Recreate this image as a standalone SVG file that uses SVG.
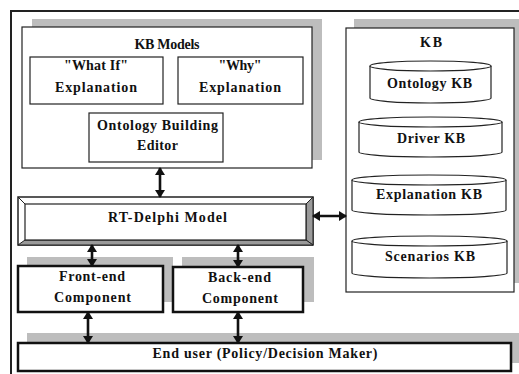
<svg xmlns="http://www.w3.org/2000/svg" width="519" height="374" viewBox="0 0 519 374">
<defs>
<style>
.t{font-family:"Liberation Serif","DejaVu Serif",serif;font-weight:700;font-size:14px;fill:#111;text-anchor:middle}
.sh{fill:#bdbdbd;stroke:none}
.thin{fill:#fff;stroke:#222;stroke-width:1.2}
.thick{fill:#fff;stroke:#111;stroke-width:2.5}
.cyl{fill:#fff;stroke:#222;stroke-width:1.2}
.con{stroke:#111;stroke-width:2.6;fill:none;marker-start:url(#ah);marker-end:url(#ah)}
</style>
<marker id="ah" markerUnits="userSpaceOnUse" markerWidth="8" markerHeight="10" refX="7" refY="5" orient="auto-start-reverse" viewBox="0 0 8 10">
<path d="M0,0 L8,5 L0,10 z" fill="#111"/>
</marker>
</defs>
<rect width="519" height="374" fill="#fff"/>
<rect x="11" y="11" width="520" height="370" fill="none" stroke="#222" stroke-width="2"/>

<g id="kb-models">
<rect class="sh" x="32" y="19" width="290" height="141"/>
<rect class="thin" x="22" y="27" width="290" height="141"/>
<text class="t" x="167" y="49" textLength="65" lengthAdjust="spacing">KB Models</text>
</g>
<g id="what-if">
<rect class="thin" x="30" y="57" width="133" height="47"/>
<text class="t" x="96" y="70" textLength="64" lengthAdjust="spacing">"What If"</text>
<text class="t" x="96" y="92" textLength="82" lengthAdjust="spacing">Explanation</text>
</g>
<g id="why">
<rect class="thin" x="178" y="57" width="125" height="47"/>
<text class="t" x="240" y="70" textLength="43" lengthAdjust="spacing">"Why"</text>
<text class="t" x="240" y="92" textLength="82" lengthAdjust="spacing">Explanation</text>
</g>
<g id="ontology-editor">
<rect class="thin" x="89" y="113" width="134" height="49"/>
<text class="t" x="157.5" y="130" textLength="121" lengthAdjust="spacing">Ontology Building</text>
<text class="t" x="157.5" y="150" textLength="41" lengthAdjust="spacing">Editor</text>
</g>

<g id="kb">
<rect class="sh" x="354" y="19" width="168" height="264"/>
<rect class="thin" x="346" y="28" width="168" height="264"/>
<text class="t" x="431" y="47" textLength="22" lengthAdjust="spacing">KB</text>
</g>
<g id="ontology-kb">
<path class="cyl" d="M370,66 L370,98 A60.5,5 0 0 0 491,98 L491,66"/>
<ellipse class="cyl" cx="430.5" cy="66" rx="60.5" ry="5"/>
<text class="t" x="429.5" y="88" textLength="85" lengthAdjust="spacing">Ontology KB</text>
</g>
<g id="driver-kb">
<path class="cyl" d="M359,122 L359,152 A71.5,5 0 0 0 502,152 L502,122"/>
<ellipse class="cyl" cx="430.5" cy="122" rx="71.5" ry="5"/>
<text class="t" x="431" y="143" textLength="68" lengthAdjust="spacing">Driver KB</text>
</g>
<g id="explanation-kb">
<path class="cyl" d="M352,180 L352,210 A77,5 0 0 0 506,210 L506,180"/>
<ellipse class="cyl" cx="429" cy="180" rx="77" ry="5"/>
<text class="t" x="429" y="199" textLength="106" lengthAdjust="spacing">Explanation KB</text>
</g>
<g id="scenarios-kb">
<path class="cyl" d="M352,241 L352,273 A77.5,5 0 0 0 507,273 L507,241"/>
<ellipse class="cyl" cx="429.5" cy="241" rx="77.5" ry="5"/>
<text class="t" x="430" y="261" textLength="90" lengthAdjust="spacing">Scenarios KB</text>
</g>

<g id="rt-delphi">
<rect x="18" y="197" width="295" height="48" fill="#fff" stroke="#222" stroke-width="1.5"/>
<polygon points="313,197 313,245 306,240 306,204" fill="#9a9a9a" stroke="#222" stroke-width="1"/>
<polygon points="18,245 313,245 306,240 25,240" fill="#9a9a9a" stroke="#222" stroke-width="1"/>
<line x1="18" y1="197" x2="25" y2="204" stroke="#222" stroke-width="1"/>
<rect x="25" y="204" width="281" height="36" fill="#fff" stroke="#222" stroke-width="1.2"/>
<text class="t" x="167.5" y="222" textLength="119" lengthAdjust="spacing">RT-Delphi Model</text>
</g>

<g id="front-end">
<rect class="sh" x="27" y="257" width="146" height="45"/>
<rect class="thick" x="18" y="266" width="145" height="46"/>
<text class="t" x="92" y="281" textLength="66" lengthAdjust="spacing">Front-end</text>
<text class="t" x="92.5" y="302" textLength="77" lengthAdjust="spacing">Component</text>
</g>
<g id="back-end">
<rect class="sh" x="182" y="257" width="132" height="45"/>
<rect class="thick" x="173" y="267" width="130" height="45"/>
<text class="t" x="239.5" y="282" textLength="63" lengthAdjust="spacing">Back-end</text>
<text class="t" x="240" y="303" textLength="76" lengthAdjust="spacing">Component</text>
</g>
<g id="end-user">
<rect class="sh" x="27" y="333" width="500" height="30"/>
<rect class="thick" x="18" y="343" width="493" height="28"/>
<text class="t" x="265" y="358" textLength="225" lengthAdjust="spacing">End user (Policy/Decision Maker)</text>
</g>

<g id="connectors">
<line class="con" x1="160" y1="168" x2="160" y2="197"/>
<line class="con" x1="313" y1="216" x2="346" y2="216"/>
<line class="con" x1="92" y1="245" x2="92" y2="266"/>
<line class="con" x1="238" y1="245" x2="238" y2="267"/>
<line class="con" x1="88" y1="312" x2="88" y2="343"/>
<line class="con" x1="238" y1="312" x2="238" y2="343"/>
</g>
</svg>
